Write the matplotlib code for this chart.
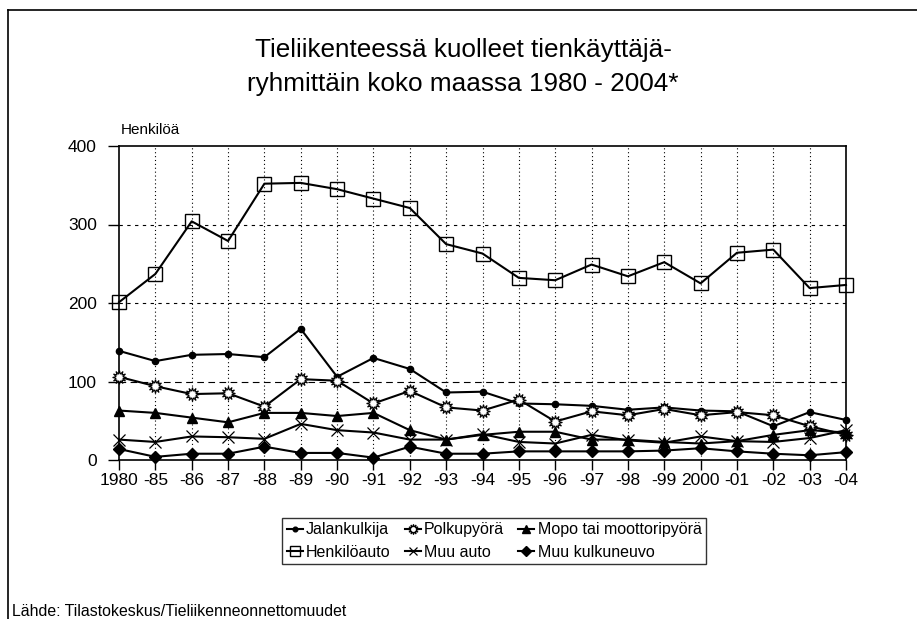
import matplotlib
matplotlib.use("Agg")
import matplotlib.pyplot as plt
from matplotlib.lines import Line2D

plt.rcParams['font.family'] = ['Liberation Sans', 'DejaVu Sans']

years = ["1980", "-85", "-86", "-87", "-88", "-89", "-90", "-91", "-92", "-93", "-94",
         "-95", "-96", "-97", "-98", "-99", "2000", "-01", "-02", "-03", "-04"]

jalankulkija = [139, 126, 134, 135, 131, 167, 106, 130, 116, 86, 87,
                72, 71, 69, 64, 67, 63, 62, 43, 61, 51]
polkupyora = [106, 94, 84, 85, 68, 103, 101, 72, 88, 67, 63,
              77, 49, 62, 57, 65, 57, 61, 57, 43, 32]
mopo = [63, 60, 54, 48, 60, 60, 56, 60, 38, 26, 32,
        36, 36, 26, 26, 23, 21, 24, 32, 38, 35]
henkiloauto = [201, 237, 304, 279, 352, 353, 345, 333, 321, 275, 263,
               232, 229, 249, 234, 252, 225, 264, 268, 219, 223]
muu_auto = [26, 23, 30, 29, 27, 46, 38, 35, 26, 26, 33,
            23, 21, 32, 25, 22, 30, 24, 23, 28, 38]
muu_kulkuneuvo = [14, 4, 8, 8, 17, 9, 9, 3, 17, 8, 8,
                  11, 11, 11, 11, 12, 15, 11, 8, 6, 10]

W, H = 917, 619
fig = plt.figure(figsize=(W / 100, H / 100), dpi=100)
ax = fig.add_axes([119 / W, 1 - 460 / H, (846 - 119) / W, (460 - 146) / H])

x = list(range(len(years)))
common = dict(color='black', lw=1.5, clip_on=False, zorder=3)

l_j, = ax.plot(x, jalankulkija, marker='o', ms=4.5, mfc='black', mec='black',
               label='Jalankulkija', **common)
l_p, = ax.plot(x, polkupyora, marker=(12, 1, 0), ms=10, mfc='white', mec='black',
               mew=0.8, label='Polkupyörä', **common)
l_m, = ax.plot(x, mopo, marker='^', ms=7.5, mfc='black', mec='black',
               label='Mopo tai moottoripyörä', **common)
l_h, = ax.plot(x, henkiloauto, marker='s', ms=10, mfc='none', mec='black',
               mew=1.0, label='Henkilöauto', **common)
l_a, = ax.plot(x, muu_auto, marker='x', ms=8.5, mec='black', mew=0.9,
               label='Muu auto', **common)
l_k, = ax.plot(x, muu_kulkuneuvo, marker='D', ms=6.5, mfc='black', mec='black',
               label='Muu kulkuneuvo', **common)

ax.set_xlim(0, len(years) - 1)
ax.set_ylim(0, 400)
ax.set_xticks(x)
ax.set_xticklabels(years, fontsize=12.5)
ax.set_yticks([0, 100, 200, 300, 400])
ax.tick_params(axis='y', direction='out', length=8, width=1, labelsize=12.5, pad=8)
ax.tick_params(axis='x', direction='out', length=7.5, width=1, pad=2)

# grid: dotted verticals, dashed horizontals
for xi in x[1:-1]:
    ax.axvline(xi, color='black', lw=0.8, ls=(0, (1, 2.5)), zorder=1)
for yv in (200, 300):
    ax.axhline(yv, color='black', lw=0.8, ls=(0, (3, 4)), zorder=1)
ax.axhline(100, color='black', lw=0.8, ls=(0, (6, 4)), zorder=1)

for s in ax.spines.values():
    s.set_linewidth(1.2)

ax.text(0.002, 1.028, 'Henkilöä', transform=ax.transAxes, fontsize=11,
        ha='left', va='bottom')

fig.text(463 / W, 1 - 50 / H, 'Tieliikenteessä kuolleet tienkäyttäjä-',
         ha='center', va='center', fontsize=18.8)
fig.text(463 / W, 1 - 84 / H, 'ryhmittäin koko maassa 1980 - 2004*',
         ha='center', va='center', fontsize=18.8)

handles = [l_j, l_h, l_p, l_a, l_m, l_k]
leg = fig.legend(handles=handles, labels=[h.get_label() for h in handles],
                 ncol=3, loc='center', bbox_to_anchor=(494 / W, 1 - 541 / H),
                 fontsize=11.5, frameon=True, fancybox=False, edgecolor='black',
                 handlelength=1.0, handletextpad=0.2, columnspacing=0.9,
                 labelspacing=0.45, borderpad=0.3, markerscale=0.75)
leg.get_frame().set_linewidth(1.0)

fig.text(12 / W, 1 - 611 / H, 'Lähde: Tilastokeskus/Tieliikenneonnettomuudet',
         ha='left', va='center', fontsize=11.4)

# outer frame (top and left edges)
fig.add_artist(Line2D([8 / W, 1], [1 - 10 / H, 1 - 10 / H], color='black', lw=1.2,
                      transform=fig.transFigure))
fig.add_artist(Line2D([8 / W, 8 / W], [0, 1 - 10 / H], color='black', lw=1.2,
                      transform=fig.transFigure))

fig.savefig('out.png', dpi=100)
